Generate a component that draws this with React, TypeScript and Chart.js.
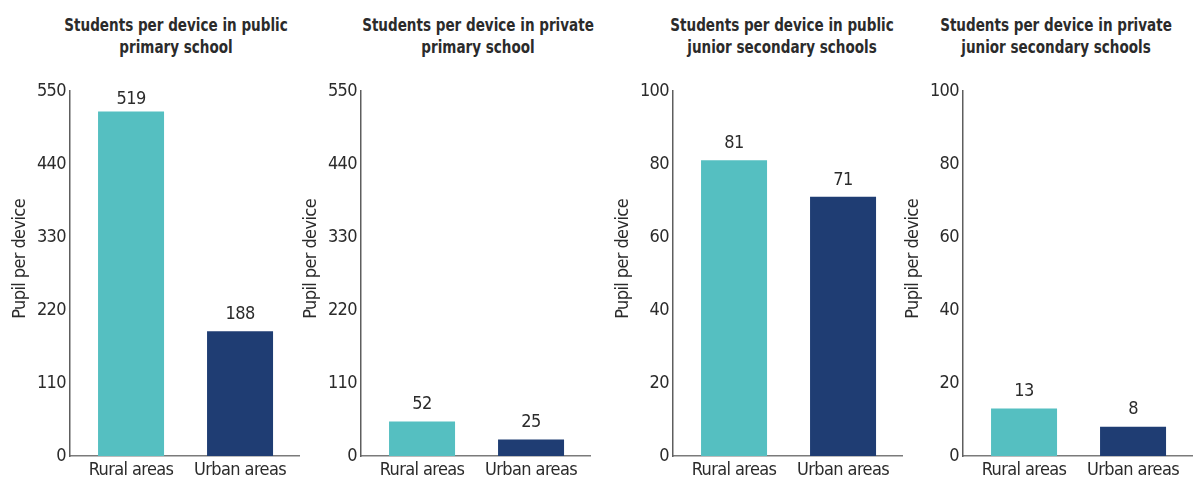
import { useEffect, useRef } from "react";
import { Chart, registerables } from "chart.js";

Chart.register(...registerables);

// Chart data
const categories = ["Rural areas", "Urban areas"];
const publicPrimary = [519, 188];
const privatePrimary = [52, 25];
const publicJuniorSecondary = [81, 71];
const privateJuniorSecondary = [13, 8];

const primaryTicks = [0, 110, 220, 330, 440, 550];
const secondaryTicks = [0, 20, 40, 60, 80, 100];

const titlePublicPrimary = ["Students per device in public", "primary school"];
const titlePrivatePrimary = ["Students per device in private", "primary school"];
const titlePublicSecondary = ["Students per device in public", "junior secondary schools"];
const titlePrivateSecondary = ["Students per device in private", "junior secondary schools"];

const yAxisTitle = "Pupil per device";

// Styling
const FONT = '"Liberation Sans Narrow", "DejaVu Sans Condensed", "Roboto", sans-serif';
const TEXT = "#2b2b2b";
const BAR_COLORS = ["#55bfc1", "#1f3d73"];
const AXIS_COLOR = "#5e5e5e";
const LETTER_SPACING = "-0.6px";

type Panel = {
  title: string[];
  values: number[];
  ticks: number[];
  axisX: number; // page x of the y axis line
  titleX: number; // page x of the title centre
};

const panels: Panel[] = [
  { title: titlePublicPrimary, values: publicPrimary, ticks: primaryTicks, axisX: 70, titleX: 176 },
  { title: titlePrivatePrimary, values: privatePrimary, ticks: primaryTicks, axisX: 361, titleX: 478 },
  { title: titlePublicSecondary, values: publicJuniorSecondary, ticks: secondaryTicks, axisX: 673, titleX: 782 },
  { title: titlePrivateSecondary, values: privateJuniorSecondary, ticks: secondaryTicks, axisX: 963, titleX: 1056 },
];

const Y_AXIS_WIDTH = 70;
const PLOT_WIDTH = 230;
const CANVAS_H = 479;
const PLOT_TOP = 91;
const PLOT_BOTTOM = 456;

// Tighter letter spacing for all canvas text (labels are set in a narrow face)
const tightText = {
  id: "tightText",
  beforeUpdate(chart: any) {
    chart.ctx.letterSpacing = LETTER_SPACING;
  },
  beforeLayout(chart: any) {
    chart.ctx.letterSpacing = LETTER_SPACING;
  },
  beforeDraw(chart: any) {
    chart.ctx.letterSpacing = LETTER_SPACING;
  },
};

const valueLabels = {
  id: "valueLabels",
  afterDatasetsDraw(chart: any) {
    const { ctx, chartArea } = chart;
    ctx.save();
    ctx.letterSpacing = LETTER_SPACING;
    ctx.font = `18px ${FONT}`;
    ctx.fillStyle = TEXT;
    ctx.textAlign = "center";
    ctx.textBaseline = "middle";
    chart.data.datasets.forEach((ds: any, di: number) => {
      const meta = chart.getDatasetMeta(di);
      meta.data.forEach((bar: any, i: number) => {
        const y = Math.max(bar.y - 17, chartArea.top + 8);
        ctx.fillText(String(ds.data[i]), bar.x, y);
      });
    });
    ctx.restore();
  },
};

const verticalTitle = {
  id: "verticalTitle",
  afterDraw(chart: any) {
    const { ctx, chartArea } = chart;
    ctx.save();
    ctx.letterSpacing = LETTER_SPACING;
    ctx.font = `18px ${FONT}`;
    ctx.fillStyle = TEXT;
    ctx.textAlign = "center";
    ctx.textBaseline = "middle";
    ctx.translate(chartArea.left - 50, chartArea.top + (chartArea.bottom - chartArea.top) * 0.46);
    ctx.rotate(-Math.PI / 2);
    ctx.fillText(yAxisTitle, 0, 0);
    ctx.restore();
  },
};

function PanelChart({ panel }: { panel: Panel }) {
  const ref = useRef<HTMLCanvasElement | null>(null);

  useEffect(() => {
    if (!ref.current) return;
    const maxTick = panel.ticks[panel.ticks.length - 1];
    const chart = new Chart(ref.current, {
      type: "bar",
      data: {
        labels: categories,
        datasets: [
          {
            data: panel.values,
            backgroundColor: BAR_COLORS,
            borderWidth: 0,
            categoryPercentage: 1,
            barPercentage: 0.6055,
          },
        ],
      },
      options: {
        responsive: false,
        animation: false,
        events: [],
        layout: { padding: { top: PLOT_TOP, left: 0, right: 0, bottom: 0 } },
        plugins: {
          legend: { display: false },
          title: { display: false },
          tooltip: { enabled: false },
        },
        scales: {
          x: {
            grid: { display: false, drawTicks: false },
            border: { display: true, color: "#7a7a7a", width: 1.5 },
            ticks: { color: TEXT, font: { family: FONT, size: 18 }, padding: 4, maxRotation: 0 },
            afterBuildTicks: (s: any) => {
              s._startValue = -0.56;
              s._valueRange = 2.11;
            },
            afterFit: (s: any) => {
              s.height = CANVAS_H - PLOT_BOTTOM;
            },
          },
          y: {
            min: 0,
            max: maxTick,
            grid: { display: false, drawTicks: false },
            border: { display: true, color: AXIS_COLOR, width: 1.5 },
            ticks: { color: TEXT, font: { family: FONT, size: 18 }, padding: 4 },
            afterBuildTicks: (s: any) => {
              s.ticks = panel.ticks.map((v) => ({ value: v }));
            },
            afterFit: (s: any) => {
              s.width = Y_AXIS_WIDTH;
            },
          },
        },
      },
      plugins: [tightText, valueLabels, verticalTitle],
    });
    return () => chart.destroy();
  }, [panel]);

  const left = panel.axisX - Y_AXIS_WIDTH;
  const width = Y_AXIS_WIDTH + PLOT_WIDTH;

  return (
    <>
      <div
        style={{
          position: "absolute",
          left: panel.titleX - 160,
          top: 14,
          width: 320,
          textAlign: "center",
          fontFamily: FONT,
          fontWeight: 700,
          fontSize: 17,
          lineHeight: "22px",
          color: TEXT,
          transform: "scaleX(0.885)",
          transformOrigin: "center",
        }}
      >
        {panel.title.map((line, i) => (
          <div key={i}>{line}</div>
        ))}
      </div>
      <canvas
        ref={ref}
        width={width}
        height={CANVAS_H}
        style={{ position: "absolute", left, top: 0, width, height: CANVAS_H }}
      />
    </>
  );
}

export default function App() {
  return (
    <div
      style={{
        position: "fixed",
        left: 0,
        top: 0,
        width: 1198,
        height: 479,
        background: "#ffffff",
        overflow: "hidden",
      }}
    >
      {panels.map((p, i) => (
        <PanelChart key={i} panel={p} />
      ))}
    </div>
  );
}
